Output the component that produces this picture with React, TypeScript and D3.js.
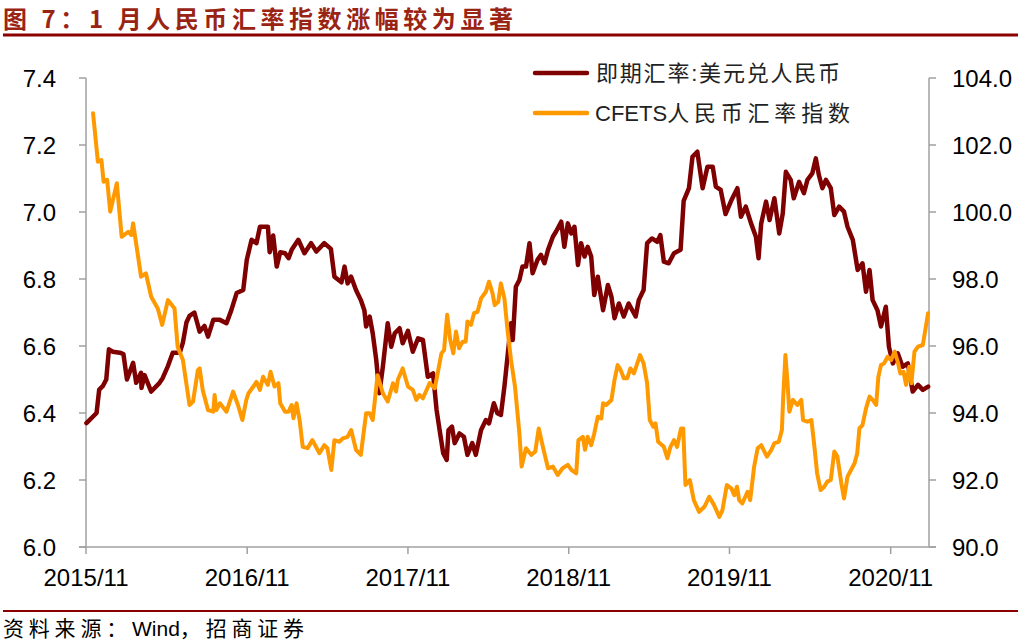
import React from "react";
import * as d3 from "d3";

const titleText = "图 7：1 月人民币汇率指数涨幅较为显著";
const sourcePrefix = "资料来源：";
const sourceWind = "Wind";
const sourceSuffix = "，招商证券";
const seriesNames = ["即期汇率:美元兑人民币", "CFETS人民币汇率指数"];

const xTickLabels = ["2015/11", "2016/11", "2017/11", "2018/11", "2019/11", "2020/11"];
const leftTicks = [6.0, 6.2, 6.4, 6.6, 6.8, 7.0, 7.2, 7.4];
const rightTicks = [90, 92, 94, 96, 98, 100, 102, 104];

const usdDates = [
  "2015-11-02","2015-11-25","2015-12-01","2015-12-09","2015-12-17","2015-12-23","2016-01-01","2016-01-17","2016-01-25","2016-02-02",
  "2016-02-16","2016-02-23","2016-03-05","2016-03-06","2016-03-13","2016-03-28","2016-04-16","2016-04-23","2016-05-05","2016-05-16",
  "2016-06-01","2016-06-08","2016-06-16","2016-06-23","2016-07-04","2016-07-16","2016-07-27","2016-08-04","2016-08-16","2016-08-31",
  "2016-09-15","2016-09-26","2016-10-08","2016-10-23","2016-10-31","2016-11-11","2016-11-22","2016-11-30","2016-12-18","2016-12-22",
  "2016-12-30","2017-01-07","2017-01-15","2017-01-26","2017-02-03","2017-02-10","2017-02-25","2017-03-11","2017-03-26","2017-04-07",
  "2017-04-25","2017-05-10","2017-05-18","2017-06-03","2017-06-10","2017-06-17","2017-06-25","2017-07-06","2017-07-17","2017-07-25",
  "2017-07-29","2017-08-06","2017-08-13","2017-08-21","2017-08-28","2017-09-05","2017-09-16","2017-09-24","2017-10-02","2017-10-13",
  "2017-10-20","2017-11-01","2017-11-12","2017-11-24","2017-12-05","2017-12-16","2017-12-28","2018-01-05","2018-01-13","2018-01-20",
  "2018-01-28","2018-02-01","2018-02-09","2018-02-15","2018-02-26","2018-03-08","2018-03-16","2018-03-27","2018-04-04","2018-04-16",
  "2018-04-27","2018-05-04","2018-05-15","2018-05-23","2018-05-31","2018-06-08","2018-06-15","2018-06-23","2018-06-27","2018-07-04",
  "2018-07-12","2018-07-19","2018-07-27","2018-08-04","2018-08-11","2018-08-22","2018-08-30","2018-09-07","2018-09-15","2018-09-26",
  "2018-10-03","2018-10-15","2018-10-22","2018-10-30","2018-11-07","2018-11-14","2018-11-22","2018-11-29","2018-12-07","2018-12-14",
  "2018-12-22","2018-12-29","2019-01-06","2019-01-18","2019-01-29","2019-02-06","2019-02-13","2019-02-23","2019-03-06","2019-03-17",
  "2019-04-02","2019-04-09","2019-04-20","2019-04-28","2019-05-09","2019-05-21","2019-05-28","2019-06-05","2019-06-16","2019-06-28",
  "2019-07-13","2019-07-20","2019-08-01","2019-08-09","2019-08-20","2019-09-01","2019-09-12","2019-09-24","2019-10-01","2019-10-12",
  "2019-10-23","2019-11-05","2019-11-19","2019-11-27","2019-12-08","2019-12-20","2019-12-31","2020-01-06","2020-01-12","2020-01-23",
  "2020-01-31","2020-02-11","2020-02-22","2020-03-01","2020-03-08","2020-03-19","2020-03-26","2020-04-07","2020-04-18","2020-04-26",
  "2020-05-07","2020-05-15","2020-05-22","2020-05-30","2020-06-07","2020-06-18","2020-06-26","2020-07-07","2020-07-18","2020-07-26",
  "2020-08-07","2020-08-18","2020-08-29","2020-09-06","2020-09-14","2020-09-21","2020-10-02","2020-10-10","2020-10-21","2020-10-28",
  "2020-11-06","2020-11-17","2020-11-28","2020-12-10","2020-12-21","2021-01-02","2021-01-13","2021-01-25"
];
const usdValues = [
  6.37,6.40,6.47,6.48,6.50,6.59,6.583,6.58,6.576,6.50,
  6.55,6.49,6.52,6.475,6.513,6.464,6.49,6.504,6.54,6.58,
  6.58,6.61,6.67,6.69,6.70,6.643,6.66,6.628,6.678,6.678,
  6.668,6.707,6.758,6.767,6.857,6.917,6.907,6.956,6.956,6.88,
  6.93,6.837,6.88,6.877,6.862,6.887,6.917,6.877,6.907,6.882,
  6.907,6.89,6.807,6.79,6.837,6.787,6.807,6.767,6.737,6.707,
  6.658,6.688,6.638,6.558,6.459,6.538,6.668,6.598,6.638,6.653,
  6.608,6.645,6.583,6.623,6.618,6.508,6.518,6.409,6.339,6.28,
  6.26,6.349,6.359,6.31,6.339,6.329,6.275,6.31,6.275,6.349,
  6.379,6.369,6.429,6.399,6.394,6.479,6.568,6.668,6.618,6.777,
  6.797,6.837,6.837,6.907,6.817,6.857,6.872,6.847,6.887,6.926,
  6.941,6.971,6.896,6.966,6.936,6.956,6.842,6.907,6.867,6.896,
  6.867,6.752,6.807,6.707,6.782,6.747,6.683,6.727,6.688,6.727,
  6.688,6.737,6.767,6.907,6.921,6.911,6.931,6.852,6.847,6.877,
  6.887,7.033,7.071,7.165,7.18,7.071,7.135,7.135,7.076,7.066,
  6.994,7.034,7.071,6.986,7.016,6.966,6.926,6.862,6.966,7.031,
  6.976,7.041,6.936,6.996,7.12,7.096,7.041,7.09,7.056,7.096,
  7.115,7.16,7.11,7.071,7.096,7.071,6.991,7.016,7.001,6.956,
  6.917,6.827,6.847,6.762,6.827,6.737,6.707,6.658,6.717,6.598,
  6.548,6.578,6.538,6.548,6.464,6.484,6.469,6.479
];

const cfetsDates = [
  "2015-11-17","2015-11-28","2015-12-06","2015-12-11","2015-12-19","2015-12-26","2016-01-10","2016-01-21","2016-02-05","2016-02-12",
  "2016-02-16","2016-02-24","2016-03-05","2016-03-16","2016-03-28","2016-04-12","2016-04-22","2016-05-05","2016-05-20","2016-05-27",
  "2016-06-08","2016-06-23","2016-07-01","2016-07-12","2016-07-16","2016-07-23","2016-08-04","2016-08-16","2016-08-19","2016-08-23",
  "2016-08-31","2016-09-15","2016-09-30","2016-10-11","2016-10-21","2016-10-30","2016-11-04","2016-11-15","2016-11-22","2016-11-30",
  "2016-12-07","2016-12-18","2016-12-24","2017-01-02","2017-01-11","2017-01-15","2017-01-26","2017-02-03","2017-02-10","2017-02-14",
  "2017-02-21","2017-02-28","2017-03-07","2017-03-18","2017-03-29","2017-04-14","2017-04-25","2017-05-02","2017-05-11","2017-05-18",
  "2017-05-29","2017-06-06","2017-06-17","2017-06-25","2017-07-06","2017-07-17","2017-07-29","2017-08-06","2017-08-13","2017-08-24",
  "2017-09-05","2017-09-16","2017-09-28","2017-10-05","2017-10-09","2017-10-20","2017-11-01","2017-11-12","2017-11-20","2017-11-27",
  "2017-12-05","2017-12-20","2018-01-01","2018-01-16","2018-01-22","2018-01-29","2018-02-05","2018-02-12","2018-02-18","2018-02-25",
  "2018-03-05","2018-03-12","2018-03-16","2018-03-24","2018-03-31","2018-04-08","2018-04-16","2018-04-27","2018-05-04","2018-05-12",
  "2018-05-17","2018-05-25","2018-05-31","2018-06-08","2018-06-15","2018-06-23","2018-07-02","2018-07-12","2018-07-17","2018-07-27",
  "2018-08-08","2018-08-17","2018-08-25","2018-09-04","2018-09-15","2018-09-26","2018-10-07","2018-10-18","2018-10-30","2018-11-07",
  "2018-11-18","2018-11-23","2018-12-03","2018-12-08","2018-12-14","2018-12-22","2018-12-29","2019-01-06","2019-01-14","2019-01-18",
  "2019-01-25","2019-02-06","2019-02-13","2019-02-20","2019-02-27","2019-03-06","2019-03-14","2019-03-21","2019-03-29","2019-04-12",
  "2019-04-20","2019-04-28","2019-05-04","2019-05-12","2019-05-17","2019-05-23","2019-06-05","2019-06-13","2019-06-20","2019-06-28",
  "2019-07-05","2019-07-14","2019-07-19","2019-07-24","2019-08-03","2019-08-12","2019-08-24","2019-09-05","2019-09-16","2019-09-27",
  "2019-10-09","2019-10-16","2019-10-26","2019-11-05","2019-11-12","2019-11-18","2019-11-23","2019-11-30","2019-12-12","2019-12-18",
  "2019-12-27","2020-01-04","2020-01-12","2020-01-25","2020-02-04","2020-02-11","2020-02-21","2020-02-28","2020-03-02","2020-03-07",
  "2020-03-11","2020-03-16","2020-03-24","2020-04-03","2020-04-12","2020-04-16","2020-04-26","2020-05-05","2020-05-11","2020-05-18",
  "2020-05-26","2020-06-03","2020-06-10","2020-06-18","2020-06-26","2020-07-03","2020-07-12","2020-07-18","2020-07-26","2020-08-03",
  "2020-08-11","2020-08-17","2020-08-22","2020-08-29","2020-09-06","2020-09-14","2020-09-21","2020-09-29","2020-10-04","2020-10-10",
  "2020-10-17","2020-10-25","2020-11-02","2020-11-10","2020-11-17","2020-11-23","2020-11-30","2020-12-06","2020-12-13","2020-12-18",
  "2020-12-25","2021-01-02","2021-01-13","2021-01-25"
];
const cfetsValues = [
  102.95,101.50,101.55,100.90,100.96,100.01,100.86,99.26,99.41,99.31,
  99.66,98.96,98.07,98.17,97.47,97.12,96.63,97.37,97.12,95.98,
  95.58,94.24,94.34,95.28,95.33,94.69,94.09,94.04,94.54,94.09,
  94.29,94.04,94.64,94.24,93.79,94.39,94.59,94.79,94.93,94.69,
  95.08,94.84,95.23,94.79,94.89,94.29,94.04,94.04,94.24,93.84,
  94.29,93.79,92.99,92.95,93.19,92.80,93.04,92.95,92.30,93.19,
  93.14,93.24,93.29,93.49,92.90,92.75,93.99,93.99,93.79,95.13,
  94.59,94.34,94.89,94.64,94.99,95.33,94.79,94.69,94.39,94.54,
  94.44,94.89,94.74,95.78,95.88,96.93,96.18,95.78,96.43,95.93,
  96.13,96.13,96.73,96.63,96.98,97.02,97.42,97.62,97.92,97.57,
  97.22,97.32,97.87,97.42,96.48,95.58,94.79,93.39,92.40,92.95,
  92.75,92.85,93.54,92.95,92.35,92.40,92.15,92.35,92.45,92.30,
  92.20,93.19,93.29,92.90,93.29,93.04,93.39,93.89,93.84,94.29,
  94.24,94.39,94.99,95.43,95.28,95.04,95.04,95.33,95.18,95.73,
  95.48,94.89,93.79,93.59,93.69,93.14,92.99,92.65,92.99,93.19,
  92.99,93.54,93.54,91.85,92.00,91.40,91.05,91.20,91.50,91.25,
  90.90,91.10,91.85,91.75,91.55,91.80,91.40,91.30,91.65,91.40,
  92.40,92.95,93.04,92.70,92.90,93.10,93.14,93.49,94.49,95.73,
  95.04,94.04,94.39,94.24,94.39,93.79,93.74,93.79,93.10,92.20,
  91.70,91.80,91.95,92.00,92.85,92.70,91.90,91.45,92.10,92.30,
  92.50,92.80,93.54,93.64,94.14,94.49,94.39,94.24,95.08,95.43,
  95.48,95.68,95.58,95.83,95.53,95.18,95.23,94.84,95.38,94.89,
  95.83,95.98,96.03,96.98
];

const RED = "#7F0000";
const ORANGE = "#FF9900";
const AXIS = "#A0A0A0";
const LATIN = "'Liberation Sans', Arial, 'Noto Sans CJK SC', sans-serif";

export default function App() {
  const parse = d3.timeParse("%Y-%m-%d");
  const W = 1018, H = 641;
  const left = 86, right = 929, top = 78, bottom = 547;

  const x = d3.scaleTime()
    .domain([parse("2015-11-01")!, parse("2021-01-27")!])
    .range([left, right]);
  const yL = d3.scaleLinear().domain([6.0, 7.4]).range([bottom, top]);
  const yR = d3.scaleLinear().domain([90, 104]).range([bottom, top]);

  const usd = usdDates.map((d, i) => ({ d: parse(d)!, v: usdValues[i] }));
  const cfets = cfetsDates.map((d, i) => ({ d: parse(d)!, v: cfetsValues[i] }));

  const lineL = d3.line<{ d: Date; v: number }>().x(p => x(p.d)).y(p => yL(p.v));
  const lineR = d3.line<{ d: Date; v: number }>().x(p => x(p.d)).y(p => yR(p.v));

  const xTicks = xTickLabels.map(l => {
    const [yy, mm] = l.split("/");
    return { label: l, date: parse(`${yy}-${mm}-01`)! };
  });

  const cfetsLatin = seriesNames[1].slice(0, 5);
  const cfetsCjk = seriesNames[1].slice(5);

  return (
    <svg width={W} height={H} style={{ position: "absolute", left: 0, top: 0, background: "#fff" }}>
      <rect x={0} y={0} width={W} height={H} fill="#fff" />
      {/* title */}
      <text x={3} y={17} dominantBaseline="central" fontFamily="'Noto Sans CJK SC', sans-serif"
        fontWeight="bold" fontSize={24} fill="#9A2414" textLength={510} lengthAdjust="spacing">
        {titleText}
      </text>
      <line x1={3} x2={W} y1={35} y2={35} stroke="#8B0000" strokeWidth={3} />

      {/* axes */}
      <line x1={left} x2={left} y1={top} y2={bottom} stroke={AXIS} strokeWidth={1.5} />
      <line x1={right} x2={right} y1={top} y2={bottom} stroke={AXIS} strokeWidth={1.5} />
      <line x1={left - 7} x2={right + 7} y1={bottom} y2={bottom} stroke={AXIS} strokeWidth={1.5} />
      {leftTicks.map(t => (
        <g key={"l" + t}>
          <line x1={left - 7} x2={left} y1={yL(t)} y2={yL(t)} stroke={AXIS} strokeWidth={1.5} />
          <text x={56} y={yL(t)} textAnchor="end" dominantBaseline="central" fontFamily={LATIN} fontSize={24} fill="#000">
            {t.toFixed(1)}
          </text>
        </g>
      ))}
      {rightTicks.map(t => (
        <g key={"r" + t}>
          <line x1={right} x2={right + 7} y1={yR(t)} y2={yR(t)} stroke={AXIS} strokeWidth={1.5} />
          <text x={952} y={yR(t)} textAnchor="start" dominantBaseline="central" fontFamily={LATIN} fontSize={24} fill="#000">
            {t.toFixed(1)}
          </text>
        </g>
      ))}
      {xTicks.map(t => (
        <g key={t.label}>
          <line x1={x(t.date)} x2={x(t.date)} y1={bottom} y2={bottom + 7} stroke={AXIS} strokeWidth={1.5} />
          <text x={x(t.date)} y={577} textAnchor="middle" dominantBaseline="central" fontFamily={LATIN} fontSize={24} fill="#000">
            {t.label}
          </text>
        </g>
      ))}

      {/* series */}
      <path d={lineL(usd) || ""} fill="none" stroke={RED} strokeWidth={4.5} strokeLinejoin="round" strokeLinecap="round" />
      <path d={lineR(cfets) || ""} fill="none" stroke={ORANGE} strokeWidth={4} strokeLinejoin="round" strokeLinecap="round" />

      {/* legend */}
      <line x1={535} x2={587} y1={73} y2={73} stroke={RED} strokeWidth={4.5} strokeLinecap="round" />
      <text x={596} y={73} dominantBaseline="central" fontFamily={LATIN} fontSize={22} fill="#222" letterSpacing={1.8}>
        {seriesNames[0]}
      </text>
      <line x1={535} x2={587} y1={113} y2={113} stroke={ORANGE} strokeWidth={4.5} strokeLinecap="round" />
      <text x={595} y={113} dominantBaseline="central" fontFamily={LATIN} fontSize={22} fill="#222">
        <tspan>{cfetsLatin}</tspan>
        <tspan letterSpacing={4.8}>{cfetsCjk}</tspan>
      </text>

      {/* footer */}
      <line x1={3} x2={W} y1={611} y2={611} stroke="#8B0000" strokeWidth={2} />
      <text x={3} y={628} dominantBaseline="central" fontFamily={LATIN} fontSize={21} fill="#000">
        <tspan letterSpacing={4.8}>{sourcePrefix}</tspan>
        <tspan>{sourceWind}</tspan>
        <tspan letterSpacing={4.8}>{sourceSuffix}</tspan>
      </text>
    </svg>
  );
}
